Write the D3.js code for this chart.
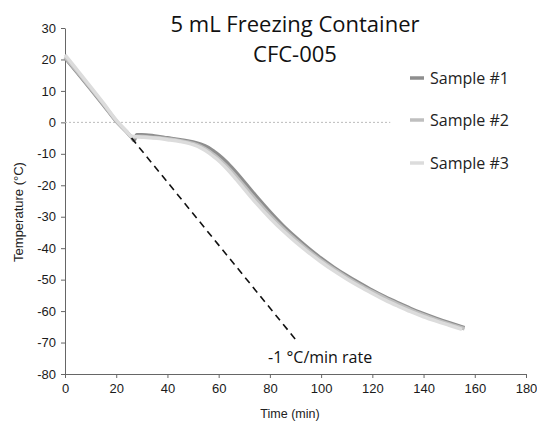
<!DOCTYPE html>
<html lang="en">
<head>
    <meta charset="UTF-8">
    <title>5 mL Freezing Container CFC-005</title>
    <script src="https://d3js.org/d3.v7.min.js"></script>
    <style>
        body { margin: 0; background: #fff; }
        .tick text { font-family: "Liberation Sans", Arial, sans-serif; font-size: 13px; fill: #1a1a1a; }
        .axis path, .axis line { stroke: #666; }
    </style>
</head>
<body>
    <div id="chart"></div>
    <script>
        // Data
        const xTicks = [0, 20, 40, 60, 80, 100, 120, 140, 160, 180];
        const yTicks = [30, 20, 10, 0, -10, -20, -30, -40, -50, -60, -70, -80];

        const seriesNames = ["Sample #1", "Sample #2", "Sample #3"];
        const seriesColors = ["#8e8e8e", "#bfbfbf", "#dcdcdc"];

        const time1 = [0, 5, 10, 15, 20, 24, 26, 27, 28, 30, 35, 40, 45, 50, 53, 56, 58, 60, 63, 66, 70, 75, 80, 85, 90, 95, 100, 105, 110, 115, 120, 125, 130, 135, 140, 145, 150, 156];
        const temp1 = [20.5, 15.6, 10.6, 5.5, 0.3, -3.0, -4.8, -5.8, -3.9, -3.9, -4.3, -4.9, -5.5, -6.2, -6.9, -8.0, -9.1, -10.3, -12.5, -15.1, -18.9, -23.8, -28.4, -32.7, -36.5, -40.0, -43.2, -46.1, -48.7, -51.1, -53.4, -55.5, -57.4, -59.2, -60.8, -62.3, -63.7, -65.3];

        const time2 = [0, 5, 10, 15, 20, 24, 26, 28, 30, 35, 40, 45, 50, 53, 56, 58, 60, 63, 66, 70, 75, 80, 85, 90, 95, 100, 105, 110, 115, 120, 125, 130, 135, 140, 145, 150, 156];
        const temp2 = [20.8, 15.9, 10.9, 5.8, 0.5, -2.9, -4.6, -4.5, -4.5, -4.8, -5.2, -5.8, -6.7, -7.6, -9.0, -10.2, -11.5, -13.8, -16.4, -20.2, -25.0, -29.5, -33.6, -37.3, -40.7, -43.8, -46.6, -49.2, -51.6, -53.8, -55.9, -57.8, -59.6, -61.2, -62.7, -64.1, -65.6];

        const time3 = [0, 5, 10, 15, 20, 24, 26, 28, 30, 35, 40, 45, 50, 53, 56, 58, 60, 63, 66, 70, 75, 80, 85, 90, 95, 100, 105, 110, 115, 120, 125, 130, 135, 140, 145, 150, 155];
        const temp3 = [21.5, 16.4, 11.3, 6.1, 0.7, -2.8, -4.4, -4.6, -4.7, -5.0, -5.5, -6.1, -7.1, -8.1, -9.6, -10.9, -12.2, -14.6, -17.3, -21.2, -26.0, -30.4, -34.4, -38.0, -41.3, -44.4, -47.2, -49.8, -52.2, -54.4, -56.5, -58.4, -60.2, -61.8, -63.2, -64.5, -65.8];

        const rateTime = [26, 90];
        const rateTemp = [-5, -69];
        const zeroLineTime = [0, 127];

        const width = 537, height = 421;
        const margin = { left: 65, right: 11, top: 28, bottom: 47 };

        const svg = d3.select("#chart").append("svg")
            .attr("width", width)
            .attr("height", height);

        const x = d3.scaleLinear().domain([0, 180]).range([margin.left, width - margin.right]);
        const y = d3.scaleLinear().domain([-80, 30]).range([height - margin.bottom, margin.top]);

        // Axes (plain hyphen for negatives, like the original)
        svg.append("g")
            .attr("class", "axis")
            .attr("transform", `translate(0,${height - margin.bottom})`)
            .call(d3.axisBottom(x).tickValues(xTicks).tickFormat(d => String(d))
                .tickSize(4).tickSizeOuter(0).tickPadding(6));

        svg.append("g")
            .attr("class", "axis")
            .attr("transform", `translate(${margin.left},0)`)
            .call(d3.axisLeft(y).tickValues(yTicks).tickFormat(d => String(d))
                .tickSize(4).tickSizeOuter(0).tickPadding(5));

        // Zero reference line
        svg.append("line")
            .attr("x1", x(zeroLineTime[0])).attr("x2", x(zeroLineTime[1]))
            .attr("y1", y(0)).attr("y2", y(0))
            .attr("stroke", "#bbb")
            .attr("stroke-width", 1)
            .attr("stroke-dasharray", "2,2");

        // Samples
        const line = d3.line()
            .x(d => x(d[0]))
            .y(d => y(d[1]))
            .curve(d3.curveMonotoneX);

        const samples = [
            d3.zip(time1, temp1),
            d3.zip(time2, temp2),
            d3.zip(time3, temp3)
        ];

        samples.forEach((s, i) => {
            svg.append("path")
                .datum(s)
                .attr("fill", "none")
                .attr("stroke", seriesColors[i])
                .attr("stroke-width", 3.5)
                .attr("stroke-linejoin", "round")
                .attr("d", line);
        });

        // -1 °C/min rate line
        svg.append("line")
            .attr("x1", x(rateTime[0])).attr("y1", y(rateTemp[0]))
            .attr("x2", x(rateTime[1])).attr("y2", y(rateTemp[1]))
            .attr("stroke", "#111")
            .attr("stroke-width", 1.6)
            .attr("stroke-dasharray", "7,5");

        svg.append("text")
            .attr("x", 268)
            .attr("y", 363)
            .style("font-family", "'Open Sans', sans-serif")
            .style("font-size", "16px")
            .attr("fill", "#111")
            .text("-1 °C/min rate");

        // Title
        const title = svg.append("text")
            .attr("text-anchor", "middle")
            .style("font-family", "'Open Sans', sans-serif")
            .style("font-size", "22px")
            .attr("fill", "#111");
        title.append("tspan").attr("x", 295).attr("y", 32).text("5 mL Freezing Container");
        title.append("tspan").attr("x", 295).attr("y", 62).text("CFC-005");

        // Legend
        const legendY = [78, 120, 163];
        seriesNames.forEach((name, i) => {
            svg.append("line")
                .attr("x1", 410).attr("x2", 424)
                .attr("y1", legendY[i]).attr("y2", legendY[i])
                .attr("stroke", seriesColors[i])
                .attr("stroke-width", 3.5);
            svg.append("text")
                .attr("x", 430)
                .attr("y", legendY[i] + 6)
                .style("font-family", "'Open Sans', sans-serif")
                .style("font-size", "16px")
                .attr("fill", "#222")
                .text(name);
        });

        // Axis titles
        svg.append("text")
            .attr("x", 290)
            .attr("y", 418)
            .attr("text-anchor", "middle")
            .style("font-family", "'Liberation Sans', Arial, sans-serif")
            .style("font-size", "12.5px")
            .attr("fill", "#222")
            .text("Time (min)");

        svg.append("text")
            .attr("transform", "translate(23,212) rotate(-90)")
            .attr("text-anchor", "middle")
            .style("font-family", "'Liberation Sans', Arial, sans-serif")
            .style("font-size", "13px")
            .attr("fill", "#222")
            .text("Temperature (°C)");
    </script>
</body>
</html>
